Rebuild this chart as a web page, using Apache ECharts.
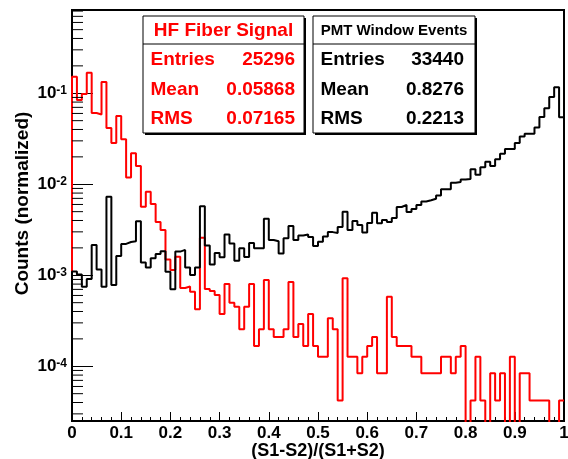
<!DOCTYPE html>
<html><head><meta charset="utf-8">
<script src="https://cdn.jsdelivr.net/npm/echarts@6/dist/echarts.min.js"></script>
<style>html,body{margin:0;padding:0;background:#fff}#c{width:568px;height:459px}</style>
</head><body><div id="c"></div>
<script>
// bin low edges of the 100 bins (width 0.01) on (S1-S2)/(S1+S2)
const binLowEdges = Array.from({length: 100}, (_, i) => +(i * 0.01).toFixed(2));
const binUpperEdge = 1.0;

// HF Fiber Signal (red), normalized counts per bin
const hfFiberSignal = [
  0.152, 0.0844, 0.0982, 0.168, 0.0607, 0.0585, 0.133, 0.0416, 0.0284, 0.0563,
  0.0313, 0.0119, 0.0219, 0.0159, 0.00567, 0.0083, 0.00608, 0.00385, 0.00315, 0.00149,
  0.00114, 0.0016, 0.000724, 0.000753, 0.00066, 0.000423, 0.00259, 0.000708, 0.000672, 0.000608,
  0.000376, 0.000802, 0.0005, 0.000452, 0.000255, 0.000452, 0.000802, 0.000167, 0.000255, 0.000887,
  0.000255, 0.00021, 0.00021, 0.000255, 0.000844, 0.00021, 0.000292, 0.000167, 0.000376, 0.000167,
  0.000127, 0.000127, 0.000337, 0.000255, 0.000042, 0.000927, 0.000127, 0.000127, 0.0000838, 0.000127,
  0.000167, 0.00021, 0.0000838, 0.0000838, 0.000582, 0.00021, 0.000167, 0.000167, 0.000167, 0.000127,
  0.000127, 0.0000838, 0.0000838, 0.0000838, 0.0000838, 0.000127, 0.000127, 0.0000838, 0.000127, 0.000167,
  0, 0.000042, 0.000127, 0.000042, 0, 0.0000838, 0.000042, 0.0000838, 0, 0.000127,
  0, 0.0000838, 0.0000838, 0.000042, 0.000042, 0.000042, 0.000042, 0, 0, 0.000042
];

// PMT Window Events (black), normalized counts per bin
const pmtWindowEvents = [
  0.0011, 0.00102, 0.00075, 0.00091, 0.00215, 0.00116, 0.00075, 0.0073, 0.00078, 0.00163,
  0.00221, 0.00232, 0.00236, 0.00392, 0.00138, 0.00122, 0.00154, 0.00171, 0.00184, 0.00109,
  0.000702, 0.00182, 0.0019, 0.00122, 0.00101, 0.00122, 0.00573, 0.00212, 0.00131, 0.00176,
  0.00158, 0.00281, 0.00223, 0.00144, 0.00198, 0.00159, 0.00226, 0.00198, 0.00198, 0.00419,
  0.00244, 0.00236, 0.00173, 0.00255, 0.00348, 0.00244, 0.00274, 0.00281, 0.00264, 0.0021,
  0.00234, 0.00266, 0.00298, 0.00292, 0.0034, 0.005, 0.00315, 0.00394, 0.00357, 0.00295,
  0.00376, 0.00486, 0.00373, 0.00405, 0.00385, 0.00426, 0.00563, 0.00592, 0.00496, 0.00535,
  0.00592, 0.00647, 0.00667, 0.00693, 0.00753, 0.00881, 0.00881, 0.0104, 0.0106, 0.0113,
  0.0114, 0.0146, 0.0127, 0.0154, 0.0177, 0.0159, 0.0188, 0.0217, 0.0244, 0.0244,
  0.0284, 0.0335, 0.036, 0.036, 0.0421, 0.055, 0.0684, 0.091, 0.1165, 0.0545
];

const xTickLabels = ['0', '0.1', '0.2', '0.3', '0.4', '0.5', '0.6', '0.7', '0.8', '0.9', '1'];
const yTickExponents = [-4, -3, -2, -1];

const hfStats = {title: 'HF Fiber Signal', rows: [['Entries', '25296'], ['Mean', '0.05868'], ['RMS', '0.07165']]};
const pmtStats = {title: 'PMT Window Events', rows: [['Entries', '33440'], ['Mean', '0.8276'], ['RMS', '0.2213']]};

const Y_MIN = 2.505e-5, Y_MAX = 0.822;
const FONT = 'Liberation Sans, Arial, Helvetica, sans-serif';

function stepPoints(vals) {
  const pts = [[binLowEdges[0], Y_MIN]];
  vals.forEach((v, i) => pts.push([binLowEdges[i], v > 0 ? v : Y_MIN / 10]));
  const last = vals[vals.length - 1];
  pts.push([binUpperEdge, last > 0 ? last : Y_MIN / 10]);
  return pts;
}

// minor ticks at 2..9 x 10^n inside the visible range
const yMinorTicks = [];
for (let e = -5; e <= 0; e++) for (let m = 2; m <= 9; m++) {
  const v = m * Math.pow(10, e);
  if (v > Y_MIN && v < Y_MAX) yMinorTicks.push([0, v]);
}

function statBox(x, y, w, h, headH, stats, color, titleSize, labelX, valueX, rowYs) {
  const els = [
    {type: 'rect', shape: {x: x + 2, y: y + 2, width: w, height: h}, style: {fill: '#000'}, z: 100},
    {type: 'rect', shape: {x: x, y: y, width: w, height: h}, style: {fill: '#fff', stroke: '#000', lineWidth: 1}, z: 101},
    {type: 'line', shape: {x1: x, y1: y + headH, x2: x + w, y2: y + headH}, style: {stroke: '#000', lineWidth: 1}, z: 102},
    {type: 'text', x: x + w / 2, y: y + headH / 2 + 1, z: 103,
     style: {text: stats.title, fill: color, font: 'bold ' + titleSize + 'px ' + FONT, textAlign: 'center', textVerticalAlign: 'middle'}}
  ];
  stats.rows.forEach((r, i) => {
    els.push({type: 'text', x: labelX, y: rowYs[i], z: 103,
      style: {text: r[0], fill: color, font: 'bold 19px ' + FONT, textAlign: 'left', textVerticalAlign: 'middle'}});
    els.push({type: 'text', x: valueX, y: rowYs[i], z: 103,
      style: {text: r[1], fill: color, font: 'bold 19px ' + FONT, textAlign: 'right', textVerticalAlign: 'middle'}});
  });
  return els;
}

const chart = echarts.init(document.getElementById('c'), null, {renderer: 'canvas'});
chart.setOption({
  animation: false,
  backgroundColor: '#fff',
  grid: {left: 72, top: 10, right: 4, bottom: 38, containLabel: false, outerBoundsMode: 'none',
         show: true, borderColor: '#000', borderWidth: 2, backgroundColor: 'transparent'},
  xAxis: {
    type: 'value', min: 0, max: 1, interval: 0.1,
    name: '(S1-S2)/(S1+S2)', nameLocation: 'middle', nameGap: 21, nameMoveOverlap: false,
    nameTextStyle: {fontFamily: FONT, fontWeight: 'bold', fontSize: 18, color: '#000'},
    axisLine: {show: true, lineStyle: {color: '#000', width: 2}},
    axisTick: {show: true, inside: true, length: 9, lineStyle: {color: '#000', width: 1}},
    minorTick: {show: true, splitNumber: 5, length: 4, lineStyle: {color: '#000', width: 1}},
    splitLine: {show: false},
    axisLabel: {margin: 4, fontFamily: FONT, fontWeight: 'bold', fontSize: 17, color: '#000',
      formatter: v => xTickLabels[Math.round(v * 10)] ?? ''}
  },
  yAxis: {
    type: 'log', logBase: 10, min: Y_MIN, max: Y_MAX,
    axisLine: {show: true, lineStyle: {color: '#000', width: 2}},
    axisTick: {show: true, inside: true, length: 21, lineStyle: {color: '#000', width: 1}},
    splitLine: {show: false},
    axisLabel: {margin: 5, showMinLabel: false, showMaxLabel: false,
      formatter: v => {
        const l = Math.log10(v), e = Math.round(l);
        if (Math.abs(l - e) > 1e-6 || yTickExponents.indexOf(e) < 0) return '';
        return '{b|10}{s|' + e + '}';
      },
      rich: {
        b: {fontFamily: FONT, fontWeight: 'bold', fontSize: 17, color: '#000'},
        s: {fontFamily: FONT, fontWeight: 'bold', fontSize: 12, color: '#000', verticalAlign: 'top'}
      }
    }
  },
  series: [
    {type: 'line', name: 'HF Fiber Signal', data: stepPoints(hfFiberSignal), step: 'end', symbol: 'none', clip: true,
     lineStyle: {color: '#ff0000', width: 2}, z: 2},
    {type: 'line', name: 'PMT Window Events', data: stepPoints(pmtWindowEvents), step: 'end', symbol: 'none', clip: true,
     lineStyle: {color: '#000', width: 2}, z: 3},
    {type: 'custom', coordinateSystem: 'cartesian2d', data: yMinorTicks, silent: true, z: 4,
     renderItem: (params, api) => {
       const p = api.coord([0, api.value(1)]);
       return {type: 'line', shape: {x1: p[0], y1: p[1], x2: p[0] + 11, y2: p[1]}, style: {stroke: '#000', lineWidth: 1}};
     }}
  ],
  graphic: [
    ...statBox(143, 16, 161, 117, 28, hfStats, '#ff0000', 19, 150.5, 295, [60, 89.5, 118.5]),
    ...statBox(313, 16, 162, 117, 28, pmtStats, '#000', 15, 320.5, 464, [60, 89.5, 118.5]),
    {type: 'text', x: 23, y: 203.5, rotation: Math.PI / 2, z: 10,
     style: {text: 'Counts (normalized)', fill: '#000', font: 'bold 19px ' + FONT, textAlign: 'center', textVerticalAlign: 'middle'}}
  ]
});
</script>
</body></html>
